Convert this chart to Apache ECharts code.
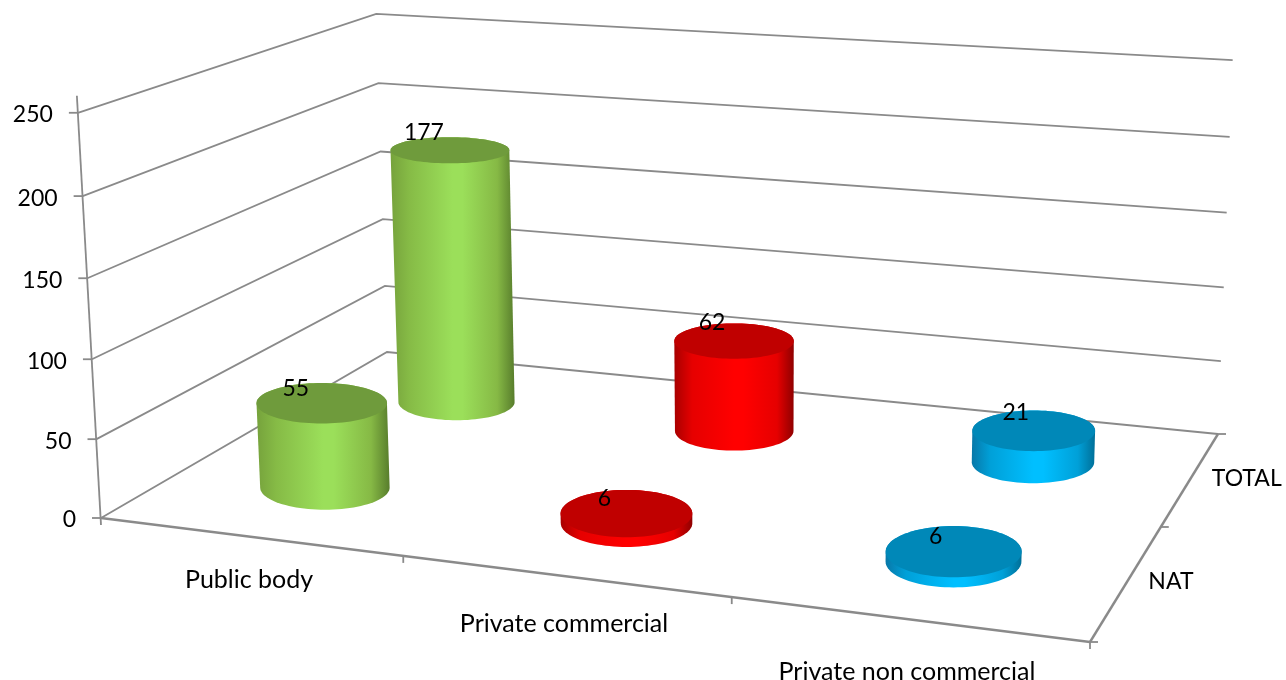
<!DOCTYPE html>
<html>
<head>
<meta charset="utf-8">
<script src="https://cdn.jsdelivr.net/npm/echarts@6/dist/echarts.min.js"></script>
<style>html,body{margin:0;padding:0;background:#fff}#c{width:1286px;height:680px}</style>
</head>
<body>
<div id="c"></div>
<script>
// ---- data ----
const categories = ['Public body', 'Private commercial', 'Private non commercial'];
const depthNames = ['NAT', 'TOTAL'];
const natValues = [55, 6, 6];
const totalValues = [177, 62, 21];
const valueTicks = [0, 50, 100, 150, 200, 250];

// ---- styles ----
const FONT = 'Lato, Carlito, "Open Sans", sans-serif';
const GREY = '#8a8a8a';
const palette = [
  {top: '#6f9b3c', stops: ['#76a23c', '#86bb46', '#9bdf5a', '#9bdf5a', '#86b945', '#587d2c']},
  {top: '#c00000', stops: ['#a80000', '#e60000', '#ff0000', '#ff0000', '#e60000', '#8f0000']},
  {top: '#0088b8', stops: ['#0878a8', '#00a0d8', '#00bfff', '#00bfff', '#00a0d8', '#006f98']}
];
const stopAt = [0, 0.15, 0.5, 0.58, 0.86, 1];
const R_U = 0.19, R_V = 0.235;   // cylinder radii in floor units

// ---- perspective of the box: floor corners + top corners ----
function solve(A, b) {
  const n = b.length, M = A.map((r, i) => r.concat(b[i]));
  for (let i = 0; i < n; i++) {
    let p = i;
    for (let k = i + 1; k < n; k++) if (Math.abs(M[k][i]) > Math.abs(M[p][i])) p = k;
    [M[i], M[p]] = [M[p], M[i]];
    for (let k = 0; k < n; k++) if (k !== i) {
      const f = M[k][i] / M[i][i];
      for (let j = i; j <= n; j++) M[k][j] -= f * M[i][j];
    }
  }
  return M.map((r, i) => r[n] / r[i]);
}
const floorPts = [[0, 0, 101, 518], [1, 0, 1090, 642], [1, 1, 1218, 434], [0, 1, 387, 352]];
const topPts = [[0, 0, 79, 112], [0, 1, 375, 13], [1, 1, 1233, 62]];
const hA = [], hb = [];
floorPts.forEach(([u, v, x, y]) => {
  hA.push([u, v, 1, 0, 0, 0, -x * u, -x * v]); hb.push(x);
  hA.push([0, 0, 0, u, v, 1, -y * u, -y * v]); hb.push(y);
});
const H = solve(hA, hb);
const base = (u, v) => [H[0] * u + H[1] * v + H[2], H[3] * u + H[4] * v + H[5], H[6] * u + H[7] * v + 1];
// vertical column of the camera matrix, least squares over the top corners
const rows = [], rhs = [];
topPts.forEach(([u, v, x, y]) => {
  const b = base(u, v);
  rows.push([1, 0, -x]); rhs.push(x * b[2] - b[0]);
  rows.push([0, 1, -y]); rhs.push(y * b[2] - b[1]);
});
const AtA = [0, 1, 2].map(i => [0, 1, 2].map(j => rows.reduce((s, r) => s + r[i] * r[j], 0)));
const Atb = [0, 1, 2].map(i => rows.reduce((s, r, k) => s + r[i] * rhs[k], 0));
const P3 = solve(AtA, Atb);
function project(u, v, w) {
  const b = base(u, v), d = b[2] + P3[2] * w;
  return [(b[0] + P3[0] * w) / d, (b[1] + P3[1] * w) / d];
}

// the hidden axes give the scales; their output is normalised and then projected
const Nc = categories.length, Nd = depthNames.length;
function mapper(api) {
  const W = api.getWidth(), Hh = api.getHeight();
  return function (cat, depth, value) {
    const c = api.coord([cat, value]);
    return project(c[0] / W, depth / Nd, 1 - c[1] / Hh);
  };
}
function hull(pts) {
  const s = pts.slice().sort((a, b) => a[0] - b[0] || a[1] - b[1]);
  const cross = (o, a, b) => (a[0] - o[0]) * (b[1] - o[1]) - (a[1] - o[1]) * (b[0] - o[0]);
  const lo = [], up = [];
  s.forEach(p => { while (lo.length > 1 && cross(lo[lo.length - 2], lo[lo.length - 1], p) <= 0) lo.pop(); lo.push(p); });
  s.slice().reverse().forEach(p => { while (up.length > 1 && cross(up[up.length - 2], up[up.length - 1], p) <= 0) up.pop(); up.push(p); });
  return lo.slice(0, -1).concat(up.slice(0, -1));
}
const line = (pts, width) => ({type: 'polyline', shape: {points: pts}, style: {stroke: GREY, lineWidth: width || 1.8, fill: null}});
const label = (text, x, y, align, size) => ({type: 'text', style: {text: String(text), x, y, align, verticalAlign: 'middle', font: (size || 23) + 'px ' + FONT, fill: '#000'}});

// walls: one data row per value tick
function renderTick(params, api) {
  const m = mapper(api), val = api.value(1);
  const a = m(0, 0, val), b = m(0, Nd, val), c = m(Nc, Nd, val);
  return {type: 'group', children: [
    line([a, b, c]),
    line([[a[0] - 9, a[1]], a]),
    label(val, a[0] - 25, a[1] + 2, 'right')
  ]};
}
// left axis post, floor edges
function renderFrame(params, api) {
  const m = mapper(api);
  const fl = m(0, 0, 0), fr = m(Nc, 0, 0), br = m(Nc, Nd, 0), tl = m(0, 0, 250);
  return {type: 'group', children: [
    line([[tl[0] - 1, tl[1] - 17], [fl[0], fl[1] + 7]]),
    line([fl, fr], 2.4),
    line([fr, br], 2.4),
    line([[fr[0], fr[1]], [fr[0], fr[1] + 7]]),
    line([fr, [fr[0] + 8, fr[1]]]),
    line([br, [br[0] + 8, br[1]]])
  ]};
}
function renderCategory(params, api) {
  const m = mapper(api), i = api.value(0);
  const at = m(i + 0.5, 0, 0), edge = m(i + 1, 0, 0);
  const kids = [label(categories[i], at[0], at[1] + 43 + 5 * i, 'center', 25)];
  if (i < Nc - 1) kids.push(line([edge, [edge[0], edge[1] + 7]]));
  return {type: 'group', children: kids};
}
function renderDepth(params, api) {
  const m = mapper(api), i = api.value(0);
  const at = m(Nc, i + 0.5, 0), edge = m(Nc, i + 1, 0);
  const kids = [label(depthNames[i], at[0] + 21, at[1], 'left')];
  if (i < Nd - 1) kids.push(line([edge, [edge[0] + 8, edge[1]]]));
  return {type: 'group', children: kids};
}
// screen-aligned ellipse of a cylinder end: width from the projected circle's extent
function endEllipse(m, u, v, val) {
  let minX = Infinity, maxX = -Infinity;
  for (let k = 0; k < 72; k++) {
    const t = k / 72 * Math.PI * 2;
    const p = m(u + R_U * Math.cos(t), v + R_V * Math.sin(t), val);
    minX = Math.min(minX, p[0]); maxX = Math.max(maxX, p[0]);
  }
  const f = m(u, v - R_V, val), b = m(u, v + R_V, val);
  const cx = (minX + maxX) / 2, cy = (f[1] + b[1]) / 2;
  const rx = (maxX - minX) / 2, ry = Math.abs(f[1] - b[1]) / 2;
  const pts = [];
  for (let k = 0; k < 96; k++) {
    const t = k / 96 * Math.PI * 2;
    pts.push([cx + rx * Math.cos(t), cy + ry * Math.sin(t)]);
  }
  return {pts, cx, cy};
}
// cylinders
function renderCylinder(params, api) {
  const m = mapper(api);
  const cat = api.value(0), val = api.value(1), depth = api.value(2);
  const u = cat + 0.5, v = depth + 0.5;
  const bot = endEllipse(m, u, v, 0), top = endEllipse(m, u, v, val);
  const pal = palette[cat];
  const grad = new echarts.graphic.LinearGradient(0, 0, 1, 0,
    stopAt.map((o, i) => ({offset: o, color: pal.stops[i]})));
  return {type: 'group', children: [
    {type: 'polygon', shape: {points: hull(bot.pts.concat(top.pts))}, style: {fill: grad}},
    {type: 'polygon', shape: {points: top.pts}, style: {fill: pal.top}},
    {type: 'text', z2: 10, style: {text: String(val), x: top.cx - 26 + 4 * cat, y: top.cy - (depth ? 18 : 15), align: 'center', verticalAlign: 'middle', font: '23px ' + FONT, fill: '#000'}}
  ]};
}
// back row first, so the front row paints over it
const cylinderRows = [];
totalValues.forEach((val, i) => cylinderRows.push([i, val, 1]));
natValues.forEach((val, i) => cylinderRows.push([i, val, 0]));

const custom = (name, renderItem, data, z) => ({
  type: 'custom', name, renderItem, data, z, clip: false, silent: true,
  encode: {x: 0, y: 1}, animation: false
});
const chart = echarts.init(document.getElementById('c'), null, {width: 1286, height: 680});
chart.setOption({
  animation: false,
  backgroundColor: '#fff',
  tooltip: {show: false},
  legend: {show: false},
  grid: {left: 0, right: 0, top: 0, bottom: 0},
  xAxis: {type: 'value', min: 0, max: Nc, show: false},
  yAxis: {type: 'value', min: 0, max: 250, show: false},
  series: [
    custom('walls', renderTick, valueTicks.map(t => [0, t]), 1),
    custom('frame', renderFrame, [[0, 0]], 2),
    custom('categories', renderCategory, categories.map((_, i) => [i, 0]), 3),
    custom('depth', renderDepth, depthNames.map((_, i) => [i, 0]), 3),
    custom('cylinders', renderCylinder, cylinderRows, 4)
  ]
});
</script>
</body>
</html>
